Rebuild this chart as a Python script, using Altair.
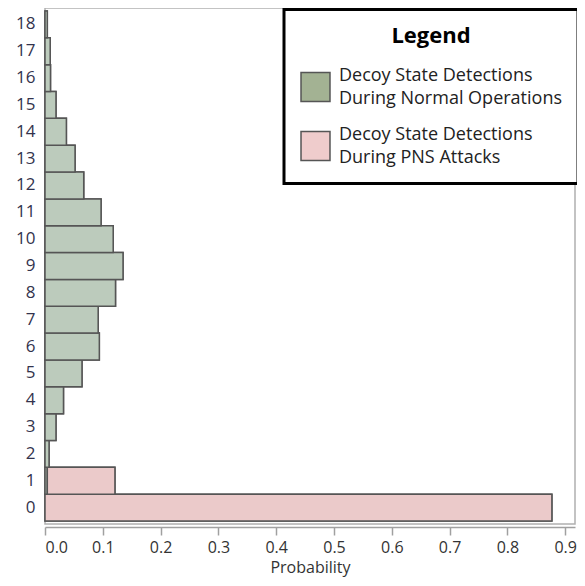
import altair as alt
import pandas as pd

counts = [0, 1, 2, 3, 4, 5, 6, 7, 8, 9, 10, 11, 12, 13, 14, 15, 16, 17, 18]
normal_ops = [0.0, 0.004, 0.007, 0.019, 0.032, 0.064, 0.094, 0.092, 0.122, 0.135,
              0.118, 0.097, 0.067, 0.052, 0.037, 0.019, 0.0095, 0.009, 0.004]
pns_attacks = [0.877, 0.117, 0.0, 0.0, 0.0, 0.0, 0.0, 0.0, 0.0, 0.0,
               0.0, 0.0, 0.0, 0.0, 0.0, 0.0, 0.0, 0.0, 0.0]
series = ["Decoy State Detections\nDuring Normal Operations",
          "Decoy State Detections\nDuring PNS Attacks"]
bar_colors = ["#bccbbc", "#ebcaca"]
legend_colors = ["#a3b293", "#efcccc"]
x_ticks = [0.0, 0.1, 0.2, 0.3, 0.4, 0.5, 0.6, 0.7, 0.8, 0.9]

rows = []
for c, n, p in zip(counts, normal_ops, pns_attacks):
    rows.append({"count": c, "series": series[0], "idx": 0, "value": n})
    rows.append({"count": c, "series": series[1], "idx": 1, "value": p})
df = pd.DataFrame(rows)
df = df[df["value"] > 0]

FONT = "Open Sans"

x_enc = alt.X("value:Q", stack="zero",
              scale=alt.Scale(domain=[0, 0.917], nice=False, zero=True),
              axis=alt.Axis(values=x_ticks, format=".1f", grid=False, offset=3,
                            domainColor="#a0a0a0", domainWidth=1.5,
                            tickColor="#a0a0a0", tickWidth=1.5, tickSize=8,
                            labelFontSize=16, labelColor="#333333", labelPadding=4,
                            labelFont=FONT, title="Probability", titleFont=FONT,
                            titleFontSize=16, titleFontWeight="normal",
                            titleColor="#333333", titlePadding=4))
y_enc = alt.Y("count:O", sort="descending",
              scale=alt.Scale(paddingInner=0, paddingOuter=0.11),
              axis=alt.Axis(title=None, domain=False, ticks=False, labelPadding=10,
                            labelFontSize=17, labelColor="#33334d", labelFont=FONT,
                            labelAngle=0))

base = alt.Chart(df)

legend_layer = base.mark_bar(stroke="#555555", strokeWidth=1.5).encode(
    x=x_enc, y=y_enc,
    color=alt.Color("series:N", scale=alt.Scale(domain=series, range=legend_colors),
                    legend=alt.Legend(title="Legend", orient="none", legendX=239,
                                      legendY=1.5, direction="vertical",
                                      titleAnchor="middle", titleFontSize=22,
                                      titleFontWeight="bold", titleColor="black",
                                      titleFont=FONT, titlePadding=24,
                                      labelFontSize=18, labelFont=FONT,
                                      labelColor="#222222",
                                      labelBaseline="line-bottom",
                                      labelExpr="split(datum.label, '\\n')",
                                      labelOffset=8, labelLimit=400,
                                      symbolType="square", symbolSize=840,
                                      symbolStrokeColor="#555555",
                                      symbolStrokeWidth=1.5,
                                      strokeColor="black", padding=16,
                                      rowPadding=17, fillColor="white")),
    order=alt.Order("idx:Q"),
)

bars = base.mark_bar(stroke="#555555", strokeWidth=1.5).encode(
    x=x_enc, y=y_enc,
    fill=alt.Fill("series:N", scale=alt.Scale(domain=series, range=bar_colors),
                  legend=None),
    order=alt.Order("idx:Q"),
)

chart = alt.layer(legend_layer, bars).properties(
    width=530, height=516,
    autosize=alt.AutoSizeParams(type="none"),
    padding={"left": 37, "top": 0, "right": 2, "bottom": 54},
).configure(
    style={"guide-label": {"lineHeight": 23}}
).configure_view(stroke="#b0b0b0", strokeWidth=1.5).configure_legend(strokeWidth=3)

chart.save("out.html", embed_options={"renderer": "svg", "actions": False})
